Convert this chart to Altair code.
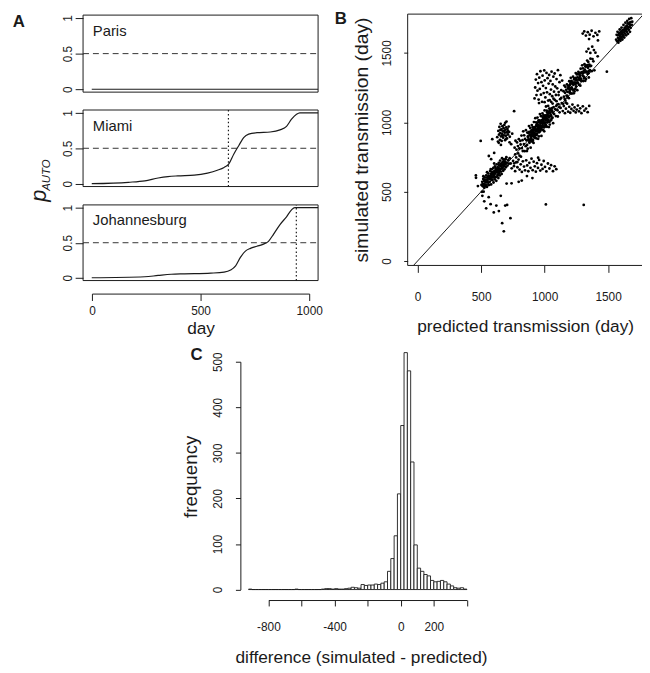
import altair as alt
import pandas as pd

W, H = 642, 665
FONT = "Liberation Sans"
INK = "#1a1a1a"

# ---------------- Panel A: p_AUTO over time ----------------
paris_day = [0, 1040]
paris_p = [0.0, 0.0]

miami_day = [0, 168, 244, 305, 350, 395, 471, 532, 577, 608, 630, 653, 676, 698, 721, 759, 820, 865, 895, 918, 941, 956, 1040]
miami_p = [0.0, 0.02, 0.04, 0.08, 0.10, 0.11, 0.12, 0.15, 0.19, 0.23, 0.28, 0.42, 0.54, 0.65, 0.70, 0.72, 0.73, 0.76, 0.81, 0.91, 0.98, 1.0, 1.0]

jo_day = [0, 244, 305, 365, 426, 547, 608, 638, 661, 683, 706, 729, 759, 789, 812, 835, 865, 895, 918, 933, 1040]
jo_p = [0.0, 0.014, 0.033, 0.05, 0.056, 0.066, 0.08, 0.11, 0.17, 0.29, 0.38, 0.42, 0.45, 0.48, 0.52, 0.62, 0.76, 0.87, 0.97, 1.0, 1.0]

miami_trans = 628
jo_trans = 940

# ---------------- Panel B: simulated vs predicted ----------------
pts_low = [(503,548),(509,571),(514,539),(517,592),(521,556),(526,528),(529,603),(533,571),(536,549),(540,618),
           (543,587),(546,534),(549,602),(553,566),(556,631),(559,548),(562,594),(565,612),(568,571),(571,649),
           (573,589),(576,628),(579,552),(582,607),(585,661),(588,583),(590,637),(593,604),(596,671),(598,566),
           (601,622),(604,648),(607,589),(609,683),(612,631),(615,603),(617,662),(620,578),(623,697),(625,641),
           (628,612),(631,676),(634,655),(636,598),(639,707),(642,633),(645,668),(648,617),(650,724),(653,686),
           (656,645),(659,703),(662,628),(665,741),(668,672),(671,692),(674,650),(677,718),(681,684),(684,661),
           (688,731),(691,697),(695,676),(699,748),(703,709),(708,688),(714,727),(719,702),(725,741),(511,553),
           (524,577),(538,566),(551,584),(566,596),(581,619),(594,626),(606,637),(619,651),(633,663),(647,688),
           (661,679),(676,701),(689,712),(531,542),(557,611),(586,640),(613,672),(641,649),(669,713),(518,611),
           (547,640),(576,663),(603,703)]
pts_low_core = [(507,499),(515,551),(523,537),(532,586),(540,542),(548,572),(557,601),(565,549),(574,604),(582,589),
                (591,638),(599,617),(608,605),(616,654),(625,651),(633,622),(642,691),(650,661),(659,691),(667,667),
                (676,732),(684,701),(693,734)]
pts_low_up = [(627,893),(633,861),(636,938),(641,911),(644,967),(648,874),(651,922),(654,989),(657,898),(660,948),
              (662,866),(665,917),(668,972),(671,934),(674,889),(677,958),(680,906),(683,981),(686,925),(689,871),
              (692,947),(695,903),(698,964),(701,927),(704,884),(708,951),(712,912),(717,969),(721,931),(726,896),
              (652,945),(667,903),(682,938),(697,881),(711,937),(639,852),(690,996),(724,856),(656,837),(700,1005),
              (497,866),(588,878),(760,1080),(561,757),(579,734),(603,779),(737,842),(745,918)]
pts_main = [(761,704),(764,817),(769,769),(771,867),(776,747),(779,803),(783,855),(786,713),(790,829),(792,776),
            (797,878),(801,811),(803,759),(808,866),(811,840),(814,752),(818,904),(821,814),(826,871),(828,793),
            (832,935),(837,843),(839,906),(843,792),(846,880),(851,828),(853,943),(857,870),(861,793),(864,926),
            (867,810),(870,923),(874,874),(877,973),(881,852),(883,907),(887,959),(890,817),(893,932),(896,880),
            (899,980),(902,912),(905,861),(907,965),(910,939),(913,851),(916,1002),(919,912),(921,966),(924,889),
            (927,1030),(930,936),(933,1000),(935,884),(938,972),(941,918),(944,1034),(947,960),(949,881),(952,1014),
            (955,898),(958,1011),(961,961),(963,1059),(966,937),(969,993),(972,1044),(975,902),(977,1016),(980,964),
            (983,1064),(986,996),(989,945),(991,1049),(994,1023),(997,935),(1000,1086),(1003,996),(1005,1050),(1008,973),
            (1011,1114),(1014,1020),(1017,1084),(1019,968),(1022,1056),(1025,1002),(1028,1118),(1031,1044),(1034,966),(1037,1099),
            (1041,984),(1044,1097),(1048,1048),(1052,1148),(1055,1026),(1059,1083),(1063,1135),(1067,994),(1071,1110),(1075,1059),
            (1080,1161),(1084,1094),(1089,1045),(1094,1152),(1099,1128),(1104,1042),(1110,1196),(1116,1109),(1122,1167)]
pts_core = [(862,837),(868,898),(873,875),(879,931),(884,872),(889,904),(894,934),(898,863),(903,925),(908,902),
            (912,956),(917,924),(922,903),(926,958),(931,948),(936,907),(940,986),(945,944),(950,975),(954,939),
            (959,1014),(964,970),(968,1004),(973,950),(978,998),(982,973),(987,1035),(992,1001),(996,964),(1001,1035),
            (1006,981),(1010,1040),(1015,1017),(1020,1072),(1024,1012),(1029,1044),(1034,1074),(1039,1004),(1045,1067),(1052,1046),
            (1058,1102),(1065,1072),(871,890),(880,858),(887,925),(895,894),(901,927),(909,873),(915,923),(923,956),
            (929,916),(937,982),(943,936),(951,981),(957,928),(965,978),(971,953),(979,1001),(985,981),(993,1029),
            (999,967),(1007,1014),(1013,1032),(1021,999),(1027,1065),(1036,1035),(1043,1069),(1050,1014),
            (884,910),(892,877),(899,944),(906,912),(914,947),(920,891),(928,943),(934,974),(941,935),(948,1000),
            (954,954),(962,999),(968,946),(975,995),(981,970),(988,1017),(995,998),(1002,1045),(1009,984),(1016,1030),
            (1023,1049),(1031,1016),(1038,1083),(1046,1052),(1054,1087),(1062,1033)]
pts_main_up = [(921,1172),(926,1251),(931,1308),(936,1196),(940,1347),(944,1228),(949,1283),(953,1164),(958,1322),(962,1241),
               (967,1368),(971,1199),(975,1289),(980,1148),(984,1336),(988,1263),(993,1211),(997,1374),(1001,1302),(1006,1179),
               (1010,1247),(1015,1356),(1019,1216),(1023,1318),(1028,1157),(1032,1279),(1036,1341),(1041,1203),(1046,1298),(1050,1236),
               (1055,1365),(1060,1188),(1064,1273),(1069,1329),(1074,1221),(1079,1352),(1084,1258),(1089,1197),(1094,1312),(1099,1245),
               (1105,1376),(1111,1218),(1117,1289),(1124,1340),(1131,1232),(1138,1301),(1000,1145),(1040,1160),(1070,1170),(956,1139)]
pts_main_down = [(733,703),(741,668),(752,721),(759,684),(768,648),(777,712),(786,676),(795,731),(803,659),(812,697),
                 (821,642),(829,719),(838,681),(846,654),(855,726),(863,689),(872,647),(880,708),(889,672),(897,738),
                 (906,655),(914,716),(923,683),(931,644),(940,705),(948,671),(957,729),(966,652),(975,694),(984,664),
                 (993,721),(1003,678),(1014,646),(1026,703),(1038,667),(1051,691),(1066,648),(1079,683),(1092,662),(861,612),
                 (904,598),(796,571),(701,558),(949,745)]
pts_upper = [(1146,1133),(1149,1224),(1152,1185),(1155,1265),(1158,1168),(1161,1213),(1164,1255),(1167,1142),(1170,1234),(1173,1193),
             (1176,1274),(1179,1220),(1182,1180),(1185,1264),(1188,1244),(1191,1174),(1194,1296),(1197,1224),(1200,1269),(1203,1208),
             (1206,1321),(1209,1247),(1212,1299),(1215,1207),(1218,1278),(1221,1236),(1224,1329),(1227,1270),(1230,1209),(1233,1316),
             (1236,1223),(1239,1314),(1242,1275),(1245,1355),(1248,1258),(1251,1303),(1254,1345),(1257,1232),(1260,1324),(1263,1283),
             (1266,1364),(1269,1310),(1272,1270),(1275,1354),(1278,1334),(1281,1264),(1284,1386),(1287,1314),(1290,1359),(1293,1298),
             (1296,1411),(1299,1337),(1302,1389),(1305,1297),(1308,1368),(1311,1326),(1314,1419),(1317,1360),(1320,1299),(1323,1406),
             (1326,1313),(1329,1404),(1332,1365),(1335,1445),(1338,1348),(1341,1393),(1344,1435),(1348,1323),(1352,1416),(1356,1376),
             (1361,1459),(1366,1407),(1371,1369),(1377,1456),(1384,1440),(1392,1375),(1400,1502),(1180,1190),(1190,1255),(1199,1236),
             (1207,1294),(1216,1239),(1225,1275),(1233,1308),(1242,1242),(1250,1307),(1259,1288),(1268,1347),(1276,1318),(1285,1301),
             (1294,1361),(1303,1355),(1312,1318),(1321,1402),(1330,1364),(1340,1400),(1350,1370),(1330,1510),(1345,1530),(1360,1500),
             (1375,1545),(1418,1476),(1388,1521),
             (1185,1244),(1196,1214),(1204,1282),(1213,1252),(1222,1288),(1230,1234),(1239,1287),(1247,1320),(1256,1283),(1264,1349),
             (1273,1306),(1282,1352),(1290,1301),(1299,1352),(1308,1330),(1317,1379),(1326,1362),(1336,1412),(1346,1354),(1358,1405)]
pts_upper_down = [(1092,1118),(1101,1087),(1109,1131),(1118,1072),(1126,1104),(1135,1139),(1143,1081),(1151,1117),(1160,1066),(1168,1098),
                  (1177,1134),(1185,1077),(1194,1112),(1202,1069),(1211,1096),(1219,1128),(1228,1083),(1236,1107),(1245,1071),(1253,1092),
                  (1262,1121),(1271,1079),(1280,1101),(1290,1066),(1301,1115),(1313,1084),(1326,1099),(1339,1073),(1351,1118),(1131,1176),
                  (1163,1158)]
pts_high = [(1300,1640),(1312,1655),(1325,1625),(1340,1650),(1355,1632),(1370,1660),(1385,1620),(1400,1645),(1415,1630),(1430,1655),
            (1350,1600),(1420,1590),(1490,1365)]
pts_top = [(1563,1596),(1567,1631),(1571,1583),(1574,1652),(1578,1609),(1581,1574),(1585,1638),(1588,1601),(1591,1669),(1594,1622),
           (1597,1588),(1600,1651),(1603,1614),(1606,1683),(1609,1637),(1612,1597),(1615,1665),(1618,1628),(1621,1702),(1624,1649),
           (1627,1611),(1630,1681),(1633,1640),(1636,1718),(1639,1662),(1642,1627),(1645,1697),(1648,1653),(1651,1731),(1654,1676),
           (1657,1638),(1660,1711),(1663,1667),(1666,1745),(1669,1689),(1672,1652),(1675,1722),(1678,1681),(1682,1751),(1686,1703),
           (1690,1725),(1577,1627),(1589,1644),(1601,1633),(1613,1646),(1625,1668),(1637,1685),(1649,1694),(1661,1686),(1673,1703),
           (1595,1605),(1619,1619),(1643,1673),(1667,1708),(1583,1592),(1607,1659),(1631,1659),(1655,1714)]
pts_out = [(459,617),(510,470),(525,430),(540,380),(560,460),(575,410),(600,350),(620,400),(640,360),(655,470),
           (666,273),(679,214),(690,400),(705,404),(731,309),(1010,408),(1308,404),(460,600),(475,540),(520,500),
           (740,560),(820,580)]

# ---------------- Panel C: histogram of differences ----------------
bin_lo = [-920, -900, -880, -860, -840, -820, -800, -780, -760, -740, -720, -700, -680, -660, -640, -620, -600,
          -580, -560, -540, -520, -500, -480, -460, -440, -420, -400, -380, -360, -340, -320, -300, -280, -260,
          -240, -220, -200, -180, -160, -140, -120, -100, -80, -60, -40, -20, 0, 20, 40, 60, 80, 100, 120, 140,
          160, 180, 200, 220, 240, 260, 280, 300, 320, 340, 360, 380]
bin_n = [1, 0, 0, 0, 0, 0, 0, 0, 0, 0, 0, 0, 0, 0, 1, 0, 0,
         0, 0, 0, 0, 0, 1, 2, 2, 1, 2, 1, 1, 2, 3, 5, 4, 3,
         11, 9, 10, 10, 12, 11, 14, 17, 40, 68, 118, 210, 360, 520, 480, 280, 98, 47, 40, 33,
         30, 20, 17, 18, 20, 17, 12, 8, 4, 3, 4, 1]
BIN_W = 20

one = pd.DataFrame({"k": [0]})

axis_common = dict(labelFont=FONT, labelFontSize=12, labelColor=INK, tickColor=INK, domainColor=INK,
                   titleFont=FONT, titleFontSize=17.5, titleFontWeight="normal", titleColor=INK,
                   labelFlush=False, labelOverlap=False, grid=False)

layers = []

# ---------- Panel A ----------
A_XS = dict(domain=[-40, 1040], range=[76, 314], nice=False, zero=False)


def a_panel(days, ps, name, yrange, trans=None):
    sx = lambda: alt.Scale(**A_XS)
    sy = lambda: alt.Scale(domain=[-0.04, 1.04], range=yrange, nice=False, zero=False)
    df = pd.DataFrame({"day": days, "p": ps})
    yaxis = alt.Axis(orient="left", offset=-76, values=[0, 0.5, 1], labelExpr="'' + datum.value",
                     labelAngle=270, labelAlign="center", labelBaseline="middle",
                     labelPadding=7.5, tickSize=8, domain=False, title=None)
    out = []
    out.append(alt.Chart(one).mark_rect(fillOpacity=0, stroke=INK, strokeWidth=1).encode(
        x=alt.XDatum(-40, scale=sx(), axis=None), x2=alt.X2Datum(1040),
        y=alt.YDatum(-0.04, scale=sy(), axis=None), y2=alt.Y2Datum(1.04)))
    out.append(alt.Chart(one).mark_rule(color="#333", strokeDash=[6, 4], strokeWidth=1).encode(
        x=alt.XDatum(-40, scale=sx(), axis=None), x2=alt.X2Datum(1040),
        y=alt.YDatum(0.5, scale=sy(), axis=None)))
    out.append(alt.Chart(df).mark_line(color=INK, strokeWidth=1.2, interpolate="monotone").encode(
        x=alt.X("day:Q", scale=sx(), axis=None), y=alt.Y("p:Q", scale=sy(), axis=yaxis)))
    out.append(alt.Chart(one).mark_text(text=name, align="left", baseline="middle", font=FONT,
                                        fontSize=15, color=INK).encode(
        x=alt.XDatum(5, scale=sx(), axis=None), y=alt.YDatum(0.82, scale=sy(), axis=None)))
    if trans is not None:
        out.append(alt.Chart(one).mark_rule(color=INK, strokeDash=[1.5, 2.5], strokeWidth=1.2).encode(
            x=alt.XDatum(trans, scale=sx(), axis=None),
            y=alt.YDatum(-0.04, scale=sy(), axis=None), y2=alt.Y2Datum(1.04)))
    return out


layers += a_panel(paris_day, paris_p, "Paris", [81, 3])
layers += a_panel(miami_day, miami_p, "Miami", [176.6, 99.1], miami_trans)
layers += a_panel(jo_day, jo_p, "Johannesburg", [271.8, 195.2], jo_trans)

layers.append(alt.Chart(one).mark_point(opacity=0).encode(
    x=alt.XDatum(0, scale=alt.Scale(domain=[0, 1000], range=[85, 305], nice=False, zero=False),
                 axis=alt.Axis(orient="bottom", offset=285 - H, values=[0, 500, 1000],
                               labelExpr="'' + datum.value", tickSize=7, labelPadding=10,
                               labelBaseline="middle", title="day", titleX=195, titleY=35,
                               titleBaseline="middle", titleAlign="center"))))

# ---------- Panel B ----------
all_pts = (pts_low + pts_low_core + pts_low_up + pts_main + pts_core + pts_main_up + pts_main_down + pts_upper
           + pts_upper_down + pts_high + pts_top + pts_out)
pred_x = [p[0] for p in all_pts]
sim_y = [p[1] for p in all_pts]
bdf = pd.DataFrame({"pred": pred_x, "sim": sim_y})

sxB = lambda: alt.Scale(domain=[-78, 1790], range=[404.7, 645], nice=False, zero=False)
syB = lambda: alt.Scale(domain=[-32, 1780], range=[256.5, 2], nice=False, zero=False)

layers.append(alt.Chart(one).mark_rect(fillOpacity=0, stroke=INK, strokeWidth=1).encode(
    x=alt.XDatum(-78, scale=sxB(), axis=None), x2=alt.X2Datum(1790),
    y=alt.YDatum(-32, scale=syB(), axis=None), y2=alt.Y2Datum(1780)))
layers.append(alt.Chart(one).mark_rule(color=INK, strokeWidth=1).encode(
    x=alt.XDatum(-32, scale=sxB(), axis=None), x2=alt.X2Datum(1780),
    y=alt.YDatum(-32, scale=syB(), axis=None), y2=alt.Y2Datum(1780)))
layers.append(alt.Chart(bdf).mark_circle(size=8, color="#000", opacity=1).encode(
    x=alt.X("pred:Q", scale=sxB(),
            axis=alt.Axis(orient="bottom", offset=256.5 - H, values=[0, 500, 1000, 1500],
                          labelExpr="'' + datum.value", tickSize=7, labelPadding=25,
                          labelBaseline="middle", domain=False,
                          title="predicted transmission (day)", titleX=523.7, titleY=61.5,
                          titleBaseline="middle", titleAlign="center")),
    y=alt.Y("sim:Q", scale=syB(),
            axis=alt.Axis(orient="left", offset=-404.7, values=[0, 500, 1000, 1500],
                          labelExpr="'' + datum.value", labelAngle=270, labelAlign="center",
                          labelBaseline="middle", tickSize=4, labelPadding=17, domain=False,
                          title="simulated transmission (day)", titleX=-47, titleY=129,
                          titleFontSize=19.5,
                          titleAngle=270, titleBaseline="middle", titleAlign="center"))))

# ---------- Panel C ----------
cdf = pd.DataFrame({"lo": bin_lo, "n": bin_n})
cdf["hi"] = cdf["lo"] + BIN_W
sxC = alt.Scale(domain=[-800, 400], range=[263.7, 464.7], nice=False, zero=False)
syC = alt.Scale(domain=[0, 500], range=[584.7, 354], nice=False, zero=False)
layers.append(alt.Chart(cdf).mark_rect(fill="white", stroke=INK, strokeWidth=0.9).encode(
    x=alt.X("lo:Q", scale=sxC, axis=alt.Axis(orient="bottom", offset=595.3 - H,
                                             values=[-800, -600, -400, -200, 0, 200, 400],
                                             labelExpr="(datum.value == -600 || datum.value == -200 || datum.value == 400) ? '' : '' + datum.value",
                                             tickSize=6, labelPadding=20.5, labelBaseline="middle",
                                             title="difference (simulated - predicted)", titleX=357.5, titleY=58.4,
                                             titleBaseline="middle", titleAlign="center")),
    x2="hi:Q",
    y=alt.Y("n:Q", scale=syC, axis=alt.Axis(orient="left", offset=-235.3, values=[0, 100, 200, 300, 400, 500],
                                            labelExpr="'' + datum.value", labelAngle=270, labelAlign="center",
                                            labelBaseline="middle", tickSize=5, labelPadding=18.3,
                                            title="frequency", titleX=-50.3, titleY=470, titleAngle=270,
                                            titleFontSize=19,
                                            titleBaseline="middle", titleAlign="center")),
    y2=alt.Y2Datum(0)))


# ---------- Annotations ----------
def letter(t, x, y):
    return alt.Chart(one).mark_text(text=t, font=FONT, fontSize=17, fontWeight="bold", color=INK,
                                    align="center", baseline="middle").encode(x=alt.value(x), y=alt.value(y))


layers += [letter("A", 11, 10), letter("B", 337, 7), letter("C", 191, 347)]
layers.append(alt.Chart(one).mark_text(text="p", font=FONT, fontSize=22, fontStyle="italic", color=INK,
                                       angle=270, align="center", baseline="alphabetic").encode(
    x=alt.value(38.5), y=alt.value(186)))
layers.append(alt.Chart(one).mark_text(text="AUTO", font=FONT, fontSize=11.5, fontStyle="italic", color=INK,
                                       angle=270, align="center", baseline="alphabetic").encode(
    x=alt.value(42.5), y=alt.value(165)))

chart = alt.layer(*layers).resolve_scale(x="independent", y="independent").properties(
    width=W, height=H, autosize=alt.AutoSizeParams(type="none"), padding=0
).configure_view(stroke=None).configure_axis(**axis_common)

chart.save("out.html", embed_options={"renderer": "svg", "actions": False})
